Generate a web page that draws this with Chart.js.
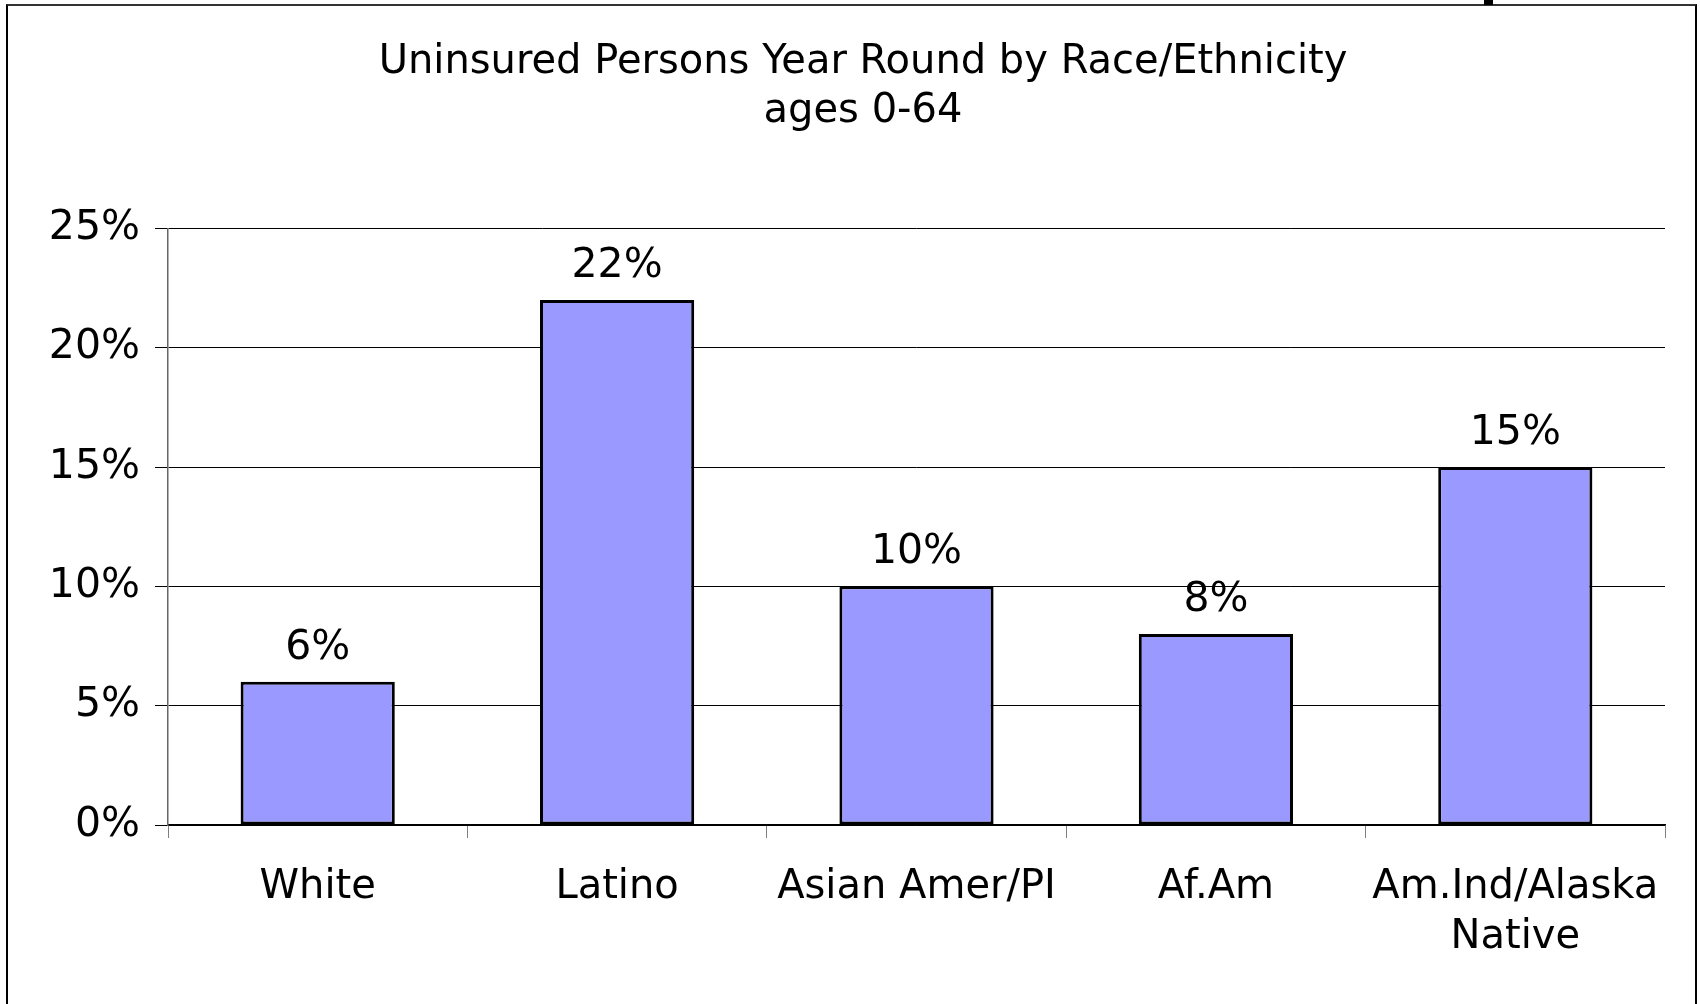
<!DOCTYPE html>
<html>
<head>
<meta charset="utf-8">
<script src="https://cdn.jsdelivr.net/npm/chart.js@4.4.1/dist/chart.umd.min.js"></script>
<style>
  html, body { margin: 0; padding: 0; width: 1700px; height: 1004px; overflow: hidden; background: #fff; }
  #frame { position: absolute; left: 6px; top: 4px; width: 1691px; height: 1020px; box-sizing: border-box;
           border-left: 2px solid #000; border-top: 2px solid #000; border-right: 2px solid #000;
           border-top-color: #333; }
  #mark { position: absolute; left: 1484px; top: 0; width: 9px; height: 5px; background: #000; }
  #wrap { position: absolute; left: 0; top: 0; width: 1700px; height: 1004px; }
</style>
</head>
<body>
<div id="frame"></div>
<div id="mark"></div>
<div id="wrap"><canvas id="c" width="1700" height="1004"></canvas></div>
<script>
const categories = ["White", "Latino", "Asian Amer/PI", "Af.Am", ["Am.Ind/Alaska", "Native"]];
const uninsuredPct = [6, 22, 10, 8, 15];
const yTicks = [0, 5, 10, 15, 20, 25];
const titleLines = ["Uninsured Persons Year Round by Race/Ethnicity", "ages 0-64"];

const FONT = "'DejaVu Sans', Verdana, sans-serif";

const valueLabels = {
  id: 'valueLabels',
  afterDatasetsDraw(chart) {
    const ctx = chart.ctx;
    const meta = chart.getDatasetMeta(0);
    ctx.save();
    ctx.font = "41px " + FONT;
    ctx.fillStyle = "#000";
    ctx.textAlign = "center";
    ctx.textBaseline = "alphabetic";
    meta.data.forEach((bar, i) => {
      const v = chart.data.datasets[0].data[i];
      ctx.fillText(v + "%", bar.x, bar.y - 23);
    });
    ctx.restore();
  }
};

// nudge the centred title slightly right, as in the original slide
const titleNudge = {
  id: 'titleNudge',
  afterLayout(chart) {
    const t = chart.titleBlock;
    if (t) { t.left += 7.5; t.right += 7.5; }
  }
};

new Chart(document.getElementById('c'), {
  type: 'bar',
  data: {
    labels: categories,
    datasets: [{
      data: uninsuredPct,
      backgroundColor: '#9999FF',
      borderColor: '#000',
      borderWidth: 3,
      borderSkipped: false,
      categoryPercentage: 0.515,
      barPercentage: 1.0
    }]
  },
  options: {
    responsive: false,
    animation: false,
    devicePixelRatio: 1,
    layout: { padding: { left: 46, right: 35, top: 0, bottom: 16 } },
    plugins: {
      legend: { display: false },
      tooltip: { enabled: false },
      title: {
        display: true,
        text: titleLines,
        color: '#000',
        font: { family: FONT, size: 40, weight: 'normal', lineHeight: 1.23 },
        padding: { top: 38, bottom: 92 }
      }
    },
    scales: {
      x: {
        grid: { offset: true, drawOnChartArea: false, drawTicks: true, tickLength: 13, color: '#808080', lineWidth: 1 },
        border: { display: true, color: '#000', width: 1.5 },
        ticks: { color: '#000', font: { family: FONT, size: 40, lineHeight: 1.25 }, padding: 25, maxRotation: 0, autoSkip: false }
      },
      y: {
        min: 0, max: 25,
        afterBuildTicks(scale) { scale.ticks = yTicks.map(v => ({ value: v })); },
        afterFit(scale) { scale.width = 122; },
        grid: { color: '#000', lineWidth: 1, tickLength: 13, drawTicks: true },
        border: { display: true, color: '#666', width: 1.5 },
        ticks: { color: '#000', font: { family: FONT, size: 41 }, padding: 15, callback: v => v + '%' }
      }
    }
  },
  plugins: [valueLabels, titleNudge]
});
</script>
</body>
</html>
